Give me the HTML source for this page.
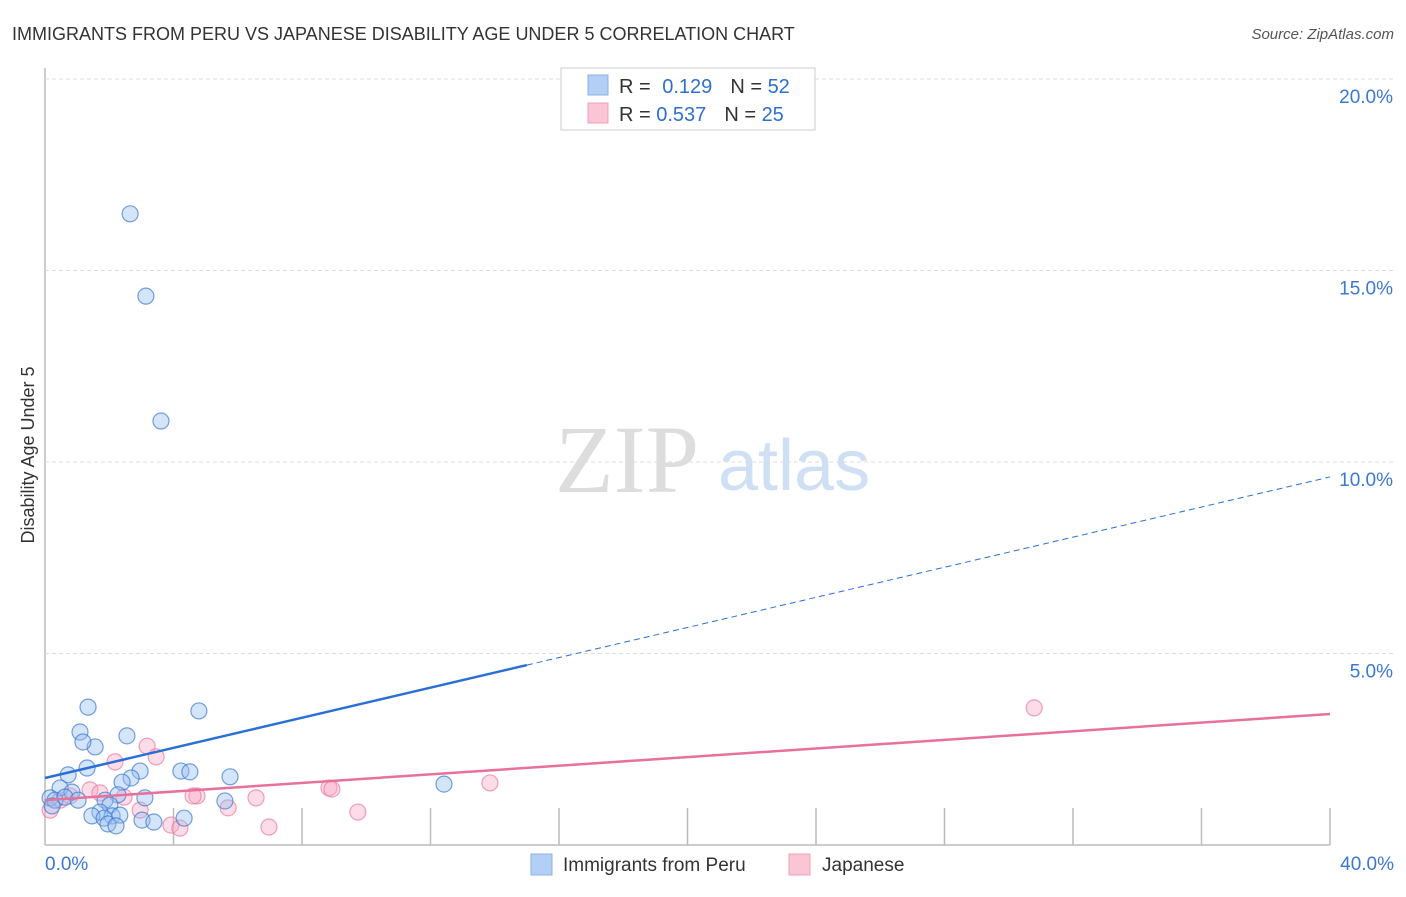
<!DOCTYPE html>
<html><head><meta charset="utf-8"><style>
body{margin:0;background:#fff;font-family:"Liberation Sans",sans-serif}
</style></head><body>
<svg id="chart" width="1406" height="892" xmlns="http://www.w3.org/2000/svg">
<text x="12" y="40" font-size="18" fill="#333">IMMIGRANTS FROM PERU VS JAPANESE DISABILITY AGE UNDER 5 CORRELATION CHART</text>
<text x="1394" y="39" font-size="15" fill="#555" font-style="italic" text-anchor="end">Source: ZipAtlas.com</text>
<text transform="translate(34,455) rotate(-90)" font-size="18" fill="#333" text-anchor="middle">Disability Age Under 5</text>
<g id="grid"></g>
<text x="555" y="492" font-size="96" fill="#ddd" font-family="Liberation Serif">ZIP</text>
<text x="718" y="490" font-size="72" fill="#cfe0f5">atlas</text>
<g id="marks"></g>
<g>
<rect x="561" y="68" width="254" height="62" fill="#fff" stroke="#ccc"/>
<rect x="588" y="75" width="20" height="20" fill="#b3cff5" stroke="#8ab0e6"/>
<rect x="588" y="103" width="20" height="20" fill="#fac5d5" stroke="#f0a0b8"/>
<text x="619" y="93" font-size="20" fill="#333">R = <tspan fill="#2f6fd0" dx="6">0.129</tspan><tspan fill="#333" dx="18">N = </tspan><tspan fill="#2f6fd0">52</tspan></text>
<text x="619" y="121" font-size="20" fill="#333">R = <tspan fill="#2f6fd0">0.537</tspan><tspan fill="#333" dx="18">N = </tspan><tspan fill="#2f6fd0">25</tspan></text>
</g>
<g>
<rect x="531" y="854" width="21" height="21" fill="#b3cff5" stroke="#8ab0e6"/>
<text x="563" y="871" font-size="19" fill="#333">Immigrants from Peru</text>
<rect x="789" y="854" width="21" height="21" fill="#fac5d5" stroke="#f0a0b8"/>
<text x="822" y="871" font-size="19" fill="#333">Japanese</text>
</g>
</svg>
<script>
const yTicks=[5,10,15,20];
const yTickLabels=["5.0%","10.0%","15.0%","20.0%"];
const xTickLabels=["0.0%","40.0%"];
const peruX=[2.65,3.14,3.61,1.34,4.79,1.09,2.55,1.56,1.18,2.96,4.23,4.51,5.76,1.31,0.72,2.68,2.40,12.42,0.47,0.84,2.27,3.11,5.60,0.16,0.31,0.62,1.03,1.87,2.02,0.22,1.71,1.46,2.09,2.33,1.84,1.96,2.21,3.02,3.39,4.33];
const peruY=[16.48,14.33,11.07,3.60,3.50,2.95,2.85,2.56,2.69,1.93,1.93,1.91,1.78,2.01,1.83,1.75,1.64,1.59,1.49,1.38,1.31,1.23,1.15,1.23,1.17,1.25,1.17,1.17,1.04,1.02,0.86,0.76,0.76,0.78,0.70,0.55,0.50,0.65,0.60,0.70];
const japX=[30.79,3.18,3.46,2.18,13.85,8.84,8.93,4.73,6.57,1.40,2.46,0.47,0.16,5.70,9.74,6.97,3.92,4.20,2.96,0.78,1.71,4.61];
const japY=[3.58,2.58,2.30,2.17,1.62,1.49,1.46,1.28,1.23,1.44,1.25,1.17,0.91,0.97,0.86,0.47,0.52,0.44,0.91,1.28,1.36,1.28];
const peruTrend=[1.75,9.61]; // y at x=0 and x=40
const japTrend=[1.17,3.42];
const sx=v=>45+v/40*1285, sy=v=>845-v/5*191.5;
const NS="http://www.w3.org/2000/svg";
const g=document.getElementById('grid'), m=document.getElementById('marks');
function mk(p,tag,a){const e=document.createElementNS(NS,tag);for(const k in a)e.setAttribute(k,a[k]);p.appendChild(e);return e;}
let ax=mk(g,'line',{x1:45,y1:68,x2:45,y2:845,stroke:'#bbb','stroke-width':1.5});


let bx=mk(g,'line',{x1:45,y1:845,x2:1330,y2:845,stroke:'#bbb','stroke-width':1.5});


yTicks.forEach((t,i)=>{
 let l=mk(g,'line',{x1:45,y1:sy(t),x2:1395,y2:sy(t),stroke:'#ddd','stroke-dasharray':'4,3'});
 
 
 let tx=mk(g,'text',{x:1393,y:sy(t)+24,'font-size':19,fill:'#3a78d4','text-anchor':'end'});
 tx.textContent=yTickLabels[i];
 
 
});
for(let i=1;i<=10;i++){
 let l=mk(g,'line',{x1:sx(i*4),y1:808,x2:sx(i*4),y2:845,stroke:'#bbb','stroke-width':1.5});
 
 
}
[[45,'start',0],[1394,'end',1]].forEach(([x,an,i])=>{
 let t=mk(g,'text',{x:x,y:870,'font-size':19,fill:'#3a78d4','text-anchor':an});
 t.textContent=xTickLabels[i];
 
 
});
japX.forEach((v,i)=>{
 let c=mk(m,'circle',{cx:sx(v),cy:sy(japY[i]),r:8,fill:'rgba(248,170,195,0.4)',stroke:'rgba(235,120,160,0.7)','stroke-width':1.2});
 
 
});
peruX.forEach((v,i)=>{
 let c=mk(m,'circle',{cx:sx(v),cy:sy(peruY[i]),r:8,fill:'rgba(150,190,240,0.4)',stroke:'rgba(60,120,210,0.7)','stroke-width':1.2});
 
 
});
const pAt=x=>peruTrend[0]+(peruTrend[1]-peruTrend[0])*x/40;
let t1=mk(m,'line',{x1:sx(0),y1:sy(pAt(0)),x2:sx(15),y2:sy(pAt(15)),stroke:'#2a6fd6','stroke-width':2.5});


let t2=mk(m,'line',{x1:sx(15),y1:sy(pAt(15)),x2:sx(40),y2:sy(pAt(40)),stroke:'#2a6fd6','stroke-width':1,'stroke-dasharray':'6,4'});


let t3=mk(m,'line',{x1:sx(0),y1:sy(japTrend[0]),x2:sx(40),y2:sy(japTrend[1]),stroke:'#e8709a','stroke-width':2.5});


</script>
</body></html>
